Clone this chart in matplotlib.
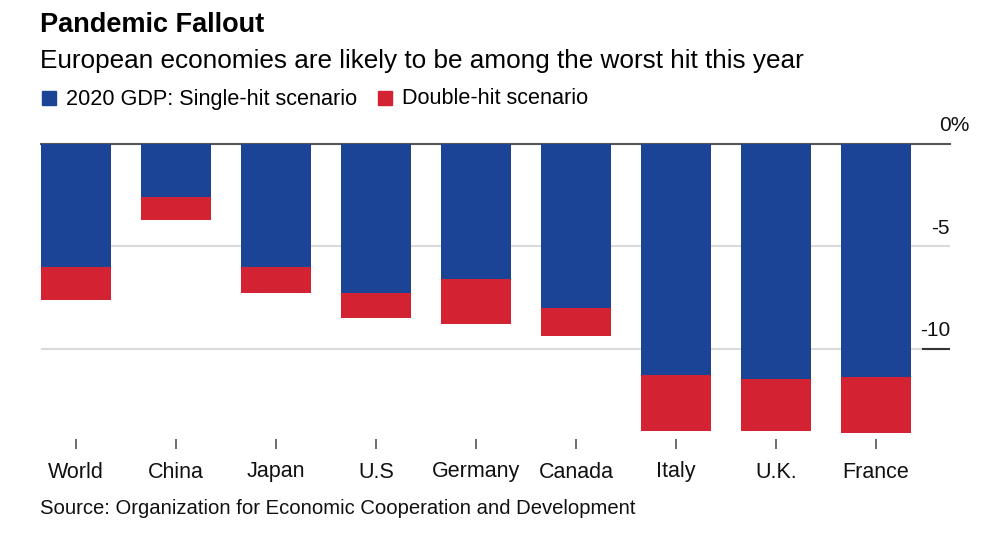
import numpy as np
import matplotlib
matplotlib.use("Agg")
import matplotlib.pyplot as plt
from matplotlib.patches import Rectangle
from matplotlib.transforms import blended_transform_factory

plt.rcParams['font.family'] = ['Liberation Sans', 'DejaVu Sans']

countries = ["World", "China", "Japan", "U.S", "Germany", "Canada", "Italy", "U.K.", "France"]
single_hit = [-6.0, -2.6, -6.0, -7.3, -6.6, -8.0, -11.3, -11.5, -11.4]
double_hit = [-7.6, -3.7, -7.3, -8.5, -8.8, -9.4, -14.0, -14.0, -14.1]
yticks = [0, -5, -10]
ytick_labels = ["0%", "-5", "-10"]

BLUE = "#1b4496"
RED = "#d32232"
W, H = 994, 548

fig = plt.figure(figsize=(W / 100, H / 100), dpi=100)
ax = fig.add_axes([41 / W, 1 - 449 / H, (950 - 41) / W, (449 - 143.7) / H])

x = np.arange(len(countries))
single = np.array(single_hit)
extra = np.array(double_hit) - single

ax.bar(x, single, width=0.7, color=BLUE, zorder=3)
ax.bar(x, extra, bottom=single, width=0.7, color=RED, zorder=3)

ax.set_xlim(-0.35, 8.74)
ax.set_ylim(-14.89, 0)

# grid lines + zero line
for v in yticks[1:]:
    ax.axhline(v, color="#dadada", lw=1.5, zorder=1)
ax.axhline(0, color="#555555", lw=1.5, zorder=2, clip_on=False)
trans = blended_transform_factory(ax.transAxes, ax.transData)
ax.plot([0.97, 1.0], [-10, -10], color="#333333", lw=1.5, transform=trans, zorder=2)

for v, lab in zip(yticks, ytick_labels):
    xr = 1.022 if lab.endswith("%") else 1.0
    ax.annotate(lab, (xr, v), xycoords=trans, xytext=(0, 6), textcoords="offset points",
                ha="right", va="bottom", fontsize=15, color="#111111", annotation_clip=False)

for s in ax.spines.values():
    s.set_visible(False)
ax.set_yticks([])
ax.set_xticks(x)
ax.set_xticklabels(countries, fontsize=15.5, color="#111111")
ax.tick_params(axis="x", direction="in", length=7, width=1.2, color="#555555", pad=9)

# titles
fig.text(40 / W, 1 - 25 / H, "Pandemic Fallout", fontsize=19.5, fontweight="bold",
         va="center", ha="left", color="#000000")
fig.text(40 / W, 1 - 61 / H, "European economies are likely to be among the worst hit this year",
         fontsize=18.8, va="center", ha="left", color="#000000")

# legend
fig.patches.append(Rectangle((42 / W, 1 - 105 / H), 14 / W, 14 / H, color=BLUE, transform=fig.transFigure))
fig.text(66 / W, 1 - 99 / H, "2020 GDP: Single-hit scenario", fontsize=15.6, va="center", ha="left")
fig.patches.append(Rectangle((378 / W, 1 - 105 / H), 14 / W, 14 / H, color=RED, transform=fig.transFigure))
fig.text(402 / W, 1 - 99 / H, "Double-hit scenario", fontsize=15.6, va="center", ha="left")

fig.text(40 / W, 1 - 509 / H, "Source: Organization for Economic Cooperation and Development",
         fontsize=14.6, va="center", ha="left", color="#111111")

fig.savefig("out.png", dpi=100)
